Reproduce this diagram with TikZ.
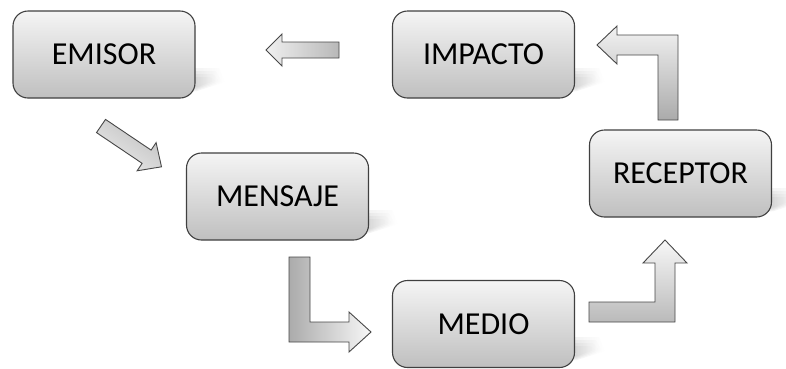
\documentclass[tikz,border=0pt]{standalone}
\usepackage{fontspec}
\setmainfont{Carlito}
\usetikzlibrary{fadings}
\begin{document}
\begin{tikzpicture}[x=1pt,y=-1pt,
  stagebox/.style={draw=black!75, line width=1.1pt, rounded corners=15pt,
    minimum width=182pt, minimum height=87pt, inner sep=0pt,
    top color=black!4, bottom color=black!25, text=black,
    font=\fontsize{32}{36}\selectfont},
  blockarrow/.style={draw=black!72, line width=0.9pt, line join=miter},
  castshadow/.style={fill=black!60, path fading=east, opacity=0.16}]
\useasboundingbox (0,0) rectangle (786,368);

% soft cast shadows at the lower right corner of each box (layered for a blur)
\foreach \rx/\by in {195/98, 575/98, 368/240, 575/367, 772/218}{
  \foreach \g in {0,3,6,9}{
    \fill[castshadow] (\rx-30,\by-3-\g*0.2) -- (\rx+2,\by-7-\g*0.4)
       -- (\rx+30-\g,\by-16-\g*0.2) -- (\rx+24-\g,\by-30+\g)
       -- (\rx-30,\by-30+\g) -- cycle;
  }
}

% stages of the communication cycle
\node[stagebox] (emisor)   at (104,54.5)   {EMISOR};
\node[stagebox] (impacto)  at (483.5,54.5) {IMPACTO};
\node[stagebox] (mensaje)  at (277.5,196.5){MENSAJE};
\node[stagebox] (medio)    at (483.5,324)  {MEDIO};
\node[stagebox] (receptor) at (680.5,173.5){RECEPTOR};

% impacto -> emisor
\draw[blockarrow, left color=black!6, right color=black!28]
  (266,50) -- (282,34) -- (282,42) -- (339,42) -- (339,58)
  -- (282,58) -- (282,66) -- cycle;

% emisor -> mensaje (diagonal)
\draw[blockarrow, top color=black!25, bottom color=black!8, shading angle=-35]
  (96.5,132.6) -- (105.5,119.4) -- (151.1,150.1) -- (156.1,142.6)
  -- (161.5,166.8) -- (137.1,170.8) -- (142.1,163.3) -- cycle;

% mensaje -> medio
\draw[blockarrow, left color=black!33, right color=black!3]
  (289,257) -- (310,257) -- (310,322) -- (349,322) -- (349,312)
  -- (371,332) -- (349,352) -- (349,342) -- (289,342) -- cycle;

% medio -> receptor
\draw[blockarrow, bottom color=black!27, top color=black!3]
  (589,302) -- (655,302) -- (655,263) -- (643,263) -- (665,240)
  -- (687,263) -- (675,263) -- (675,322) -- (589,322) -- cycle;

% receptor -> impacto
\draw[blockarrow, bottom color=black!33, top color=black!5]
  (678,120) -- (658,120) -- (658,55) -- (617,55) -- (617,64)
  -- (597,45) -- (617,26) -- (617,35) -- (678,35) -- cycle;
\end{tikzpicture}
\end{document}
